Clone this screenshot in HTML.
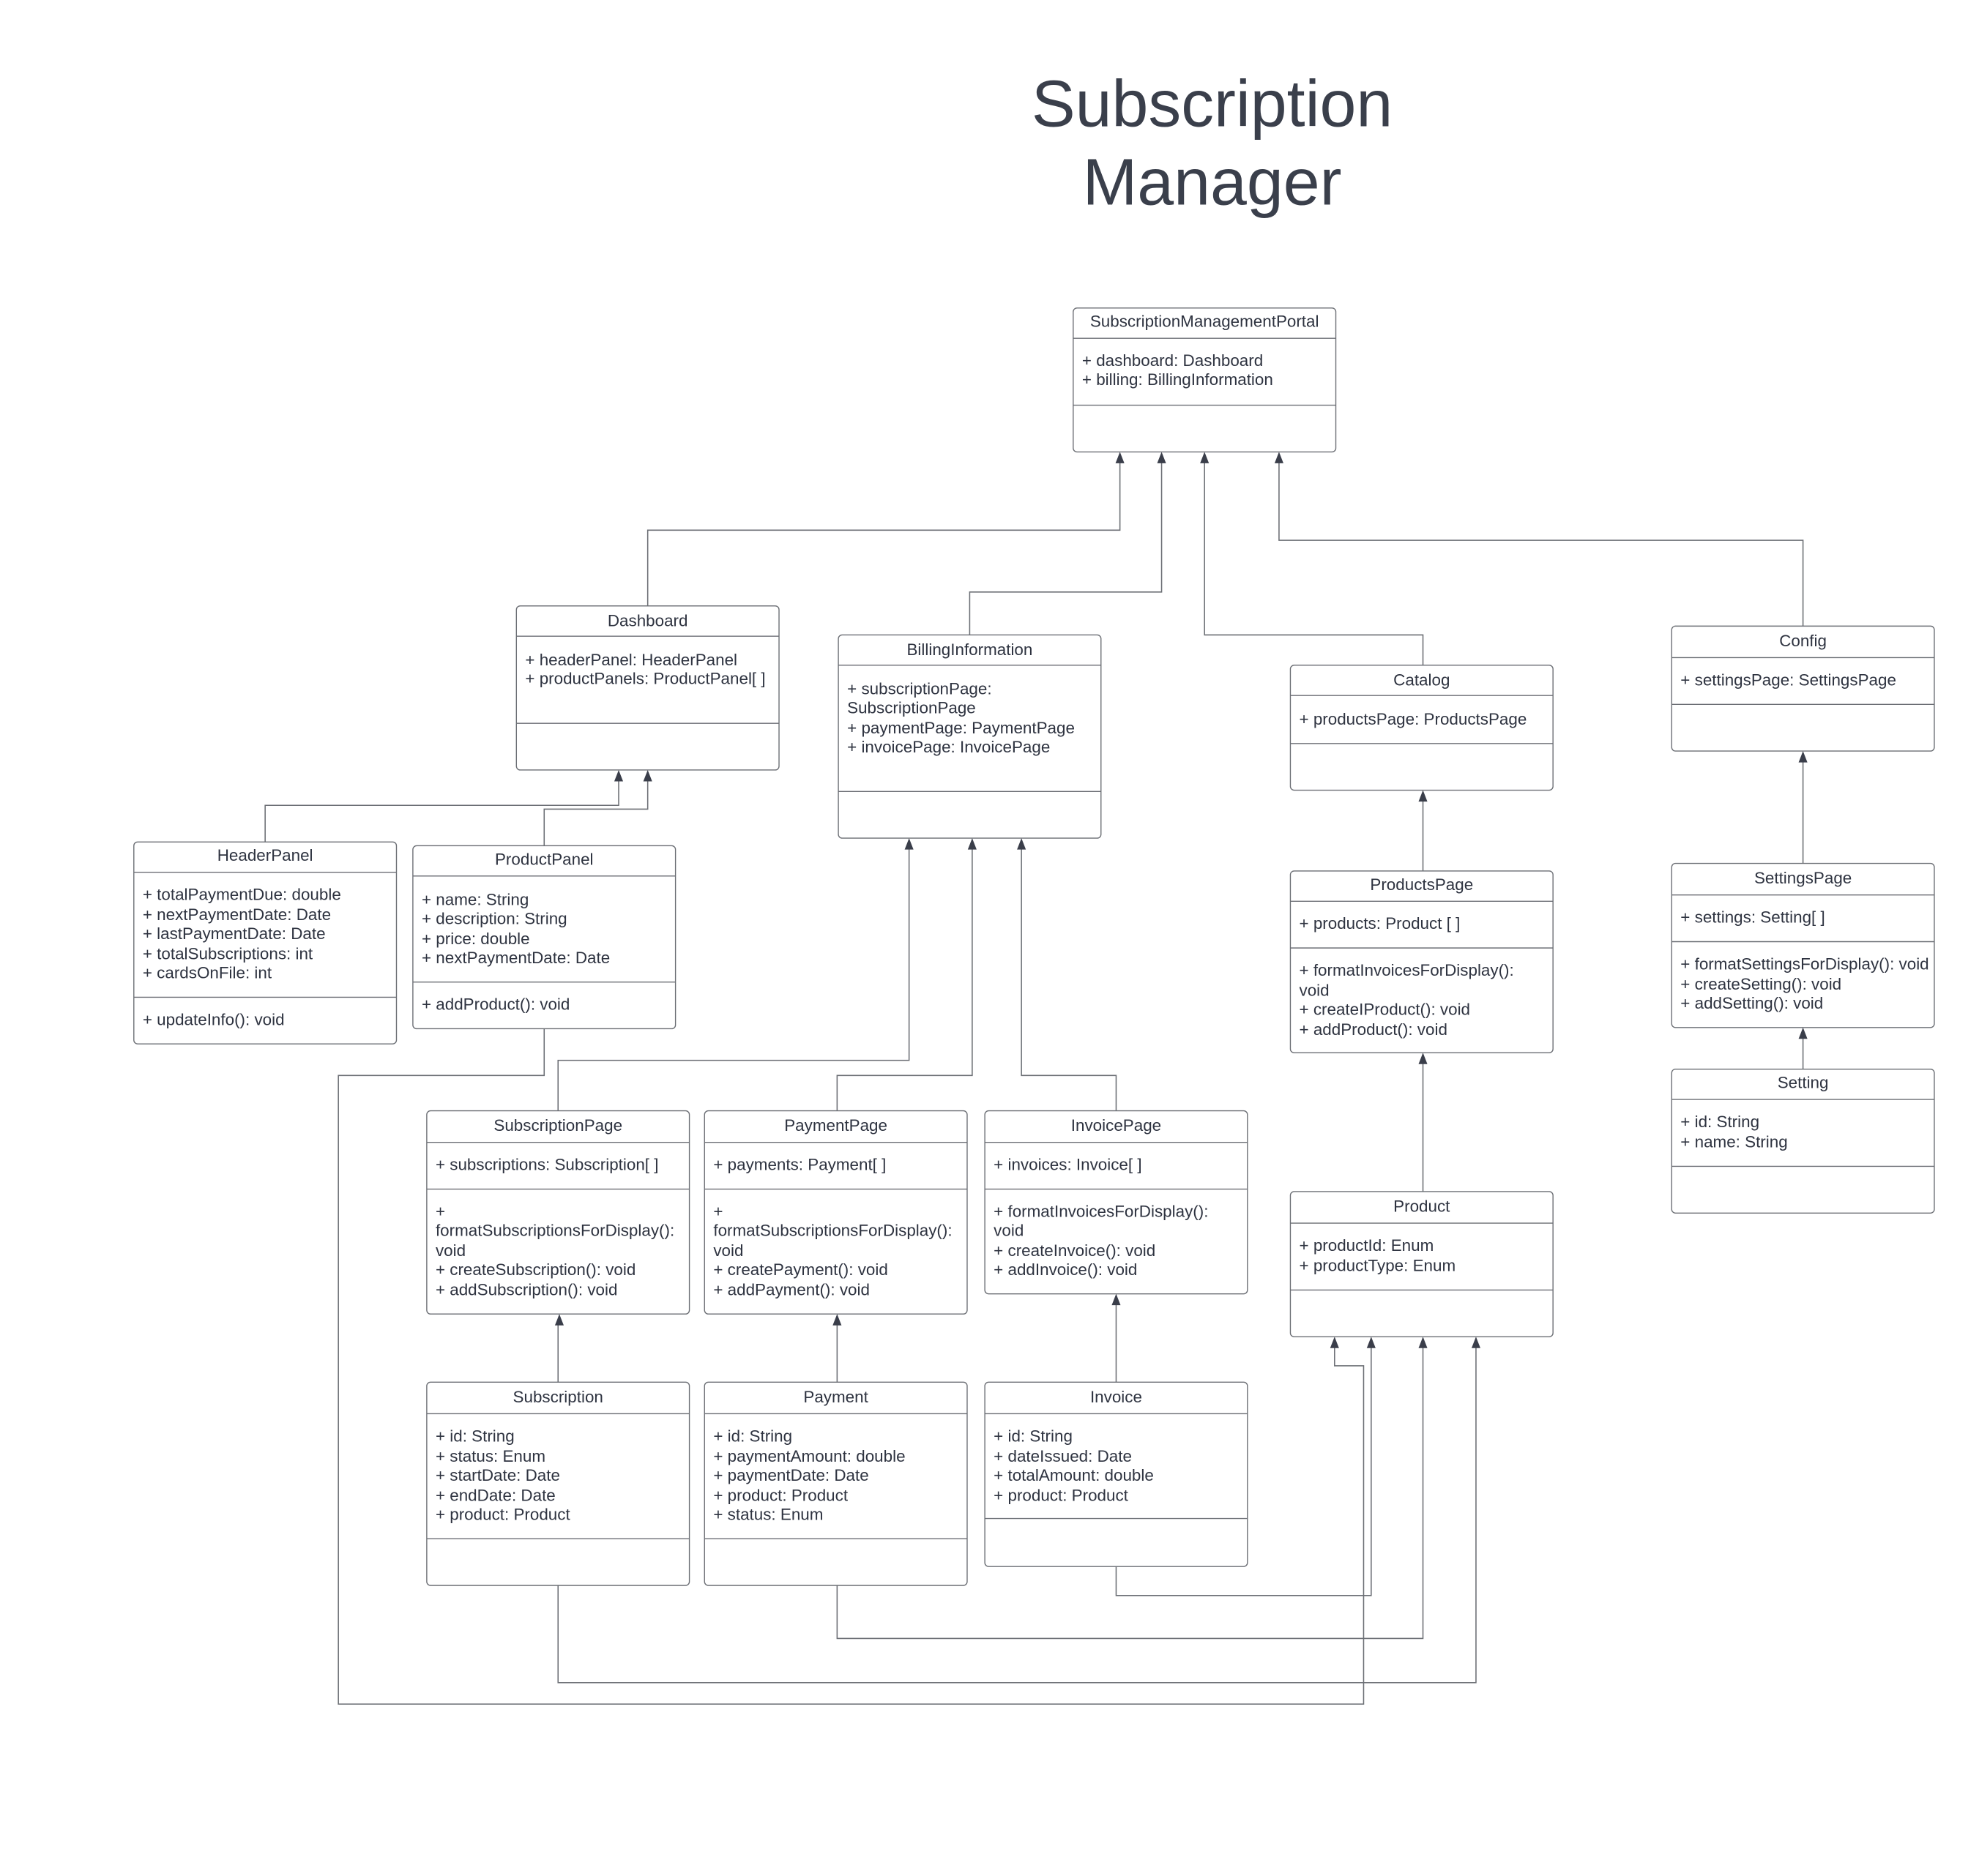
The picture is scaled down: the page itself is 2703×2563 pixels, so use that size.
<!DOCTYPE html>
<html><head><meta charset="utf-8"><style>
html,body{margin:0;padding:0;background:#fff;}
svg{display:block}
text{font-family:"Liberation Sans",sans-serif;fill:#2e3340;}
.b{fill:#fff;stroke:#6b6e74;stroke-width:0.8}
.s{stroke:#6b6e74;stroke-width:0.8}
.c{fill:none;stroke:#6b6e74;stroke-width:0.9}
.t{font-size:13px;}
.h{font-size:13px;text-anchor:middle}
.a{fill:#3a3e4a}
</style></head><body>
<svg width="2703" height="2563" viewBox="0 0 1567.4 1486.2" xmlns="http://www.w3.org/2000/svg">
<text x="960" y="100" style="font-size:52px;text-anchor:middle;fill:#3a3f4b">Subscription</text>
<text x="960" y="162" style="font-size:52px;text-anchor:middle;fill:#3a3f4b">Manager</text>

<!-- connectors -->
<g class="c">
<path d="M513 480V420H887V362"/>
<path d="M768 503V469H920V362"/>
<path d="M1127 527V503H954V362"/>
<path d="M1428 496V428H1013V362"/>
<path d="M210 667V638H490V614"/>
<path d="M431 670V641H513V614"/>
<path d="M442 880V840H720V668"/>
<path d="M663 880V852H770V668"/>
<path d="M884 880V852H809V668"/>
<path d="M1127 690V630"/>
<path d="M1127 944V838"/>
<path d="M1428 684V599"/>
<path d="M1428 847V818"/>
<path d="M442 1095V1045"/>
<path d="M663 1095V1045"/>
<path d="M884 1095V1029"/>
<path d="M884 1241V1264H1086V1063"/>
<path d="M663 1256V1298H1127V1063"/>
<path d="M442 1256V1333H1169V1063"/>
<path d="M431 815V852H268V1350H1080V1082H1057V1063"/>
</g>
<g class="a">
<path d="M887 358l-3.5 9h7z"/><path d="M920 358l-3.5 9h7z"/><path d="M954 358l-3.5 9h7z"/><path d="M1013 358l-3.5 9h7z"/>
<path d="M490 610l-3.5 9h7z"/><path d="M513 610l-3.5 9h7z"/>
<path d="M720 664l-3.5 9h7z"/><path d="M770 664l-3.5 9h7z"/><path d="M809 664l-3.5 9h7z"/>
<path d="M1127 626l-3.5 9h7z"/><path d="M1127 834l-3.5 9h7z"/>
<path d="M1428 595l-3.5 9h7z"/><path d="M1428 814l-3.5 9h7z"/>
<path d="M443 1041l-3.5 9h7z"/><path d="M663 1041l-3.5 9h7z"/><path d="M884 1025l-3.5 9h7z"/>
<path d="M1057 1059l-3.5 9h7z"/><path d="M1086 1059l-3.5 9h7z"/><path d="M1127 1059l-3.5 9h7z"/><path d="M1169 1059l-3.5 9h7z"/>
</g>

<!-- SMP -->
<rect class="b" x="850" y="244" width="208" height="114" rx="3"/>
<line class="s" x1="850" y1="268" x2="1058" y2="268"/><line class="s" x1="850" y1="321" x2="1058" y2="321"/>
<text class="h" x="954" y="259">SubscriptionManagementPortal</text>
<text class="t" x="857" y="290">+ dashboard: Dashboard</text>
<text class="t" x="857" y="305">+ billing: BillingInformation</text>

<!-- Dashboard -->
<rect class="b" x="409" y="480" width="208" height="130" rx="3"/>
<line class="s" x1="409" y1="504" x2="617" y2="504"/><line class="s" x1="409" y1="573" x2="617" y2="573"/>
<text class="h" x="513" y="496">Dashboard</text>
<text class="t" x="416" y="527">+ headerPanel: HeaderPanel</text>
<text class="t" x="416" y="542">+ productPanels: ProductPanel[ ]</text>

<!-- Billing -->
<rect class="b" x="664" y="503" width="208" height="161" rx="3"/>
<line class="s" x1="664" y1="527" x2="872" y2="527"/><line class="s" x1="664" y1="627" x2="872" y2="627"/>
<text class="h" x="768" y="519">BillingInformation</text>
<text class="t" x="671" y="550">+ subscriptionPage:</text>
<text class="t" x="671" y="565">SubscriptionPage</text>
<text class="t" x="671" y="581">+ paymentPage: PaymentPage</text>
<text class="t" x="671" y="596">+ invoicePage: InvoicePage</text>

<!-- Catalog -->
<rect class="b" x="1022" y="527" width="208" height="99" rx="3"/>
<line class="s" x1="1022" y1="551" x2="1230" y2="551"/><line class="s" x1="1022" y1="589" x2="1230" y2="589"/>
<text class="h" x="1126" y="543">Catalog</text>
<text class="t" x="1029" y="574">+ productsPage: ProductsPage</text>

<!-- Config -->
<rect class="b" x="1324" y="496" width="208" height="99" rx="3"/>
<line class="s" x1="1324" y1="521" x2="1532" y2="521"/><line class="s" x1="1324" y1="558" x2="1532" y2="558"/>
<text class="h" x="1428" y="512">Config</text>
<text class="t" x="1331" y="543">+ settingsPage: SettingsPage</text>

<!-- HeaderPanel -->
<rect class="b" x="106" y="667" width="208" height="160" rx="3"/>
<line class="s" x1="106" y1="691" x2="314" y2="691"/><line class="s" x1="106" y1="790" x2="314" y2="790"/>
<text class="h" x="210" y="682">HeaderPanel</text>
<text class="t" x="113" y="713">+ totalPaymentDue: double</text>
<text class="t" x="113" y="729">+ nextPaymentDate: Date</text>
<text class="t" x="113" y="744">+ lastPaymentDate: Date</text>
<text class="t" x="113" y="760">+ totalSubscriptions: int</text>
<text class="t" x="113" y="775">+ cardsOnFile: int</text>
<text class="t" x="113" y="812">+ updateInfo(): void</text>

<!-- ProductPanel -->
<rect class="b" x="327" y="670" width="208" height="145" rx="3"/>
<line class="s" x1="327" y1="694" x2="535" y2="694"/><line class="s" x1="327" y1="778" x2="535" y2="778"/>
<text class="h" x="431" y="685">ProductPanel</text>
<text class="t" x="334" y="717">+ name: String</text>
<text class="t" x="334" y="732">+ description: String</text>
<text class="t" x="334" y="748">+ price: double</text>
<text class="t" x="334" y="763">+ nextPaymentDate: Date</text>
<text class="t" x="334" y="800">+ addProduct(): void</text>

<!-- ProductsPage -->
<rect class="b" x="1022" y="690" width="208" height="144" rx="3"/>
<line class="s" x1="1022" y1="714" x2="1230" y2="714"/><line class="s" x1="1022" y1="751" x2="1230" y2="751"/>
<text class="h" x="1126" y="705">ProductsPage</text>
<text class="t" x="1029" y="736">+ products: Product [ ]</text>
<text class="t" x="1029" y="773">+ formatInvoicesForDisplay():</text>
<text class="t" x="1029" y="789">void</text>
<text class="t" x="1029" y="804">+ createIProduct(): void</text>
<text class="t" x="1029" y="820">+ addProduct(): void</text>

<!-- SettingsPage -->
<rect class="b" x="1324" y="684" width="208" height="130" rx="3"/>
<line class="s" x1="1324" y1="709" x2="1532" y2="709"/><line class="s" x1="1324" y1="746" x2="1532" y2="746"/>
<text class="h" x="1428" y="700">SettingsPage</text>
<text class="t" x="1331" y="731">+ settings: Setting[ ]</text>
<text class="t" x="1331" y="768">+ formatSettingsForDisplay(): void</text>
<text class="t" x="1331" y="784">+ createSetting(): void</text>
<text class="t" x="1331" y="799">+ addSetting(): void</text>

<!-- Setting -->
<rect class="b" x="1324" y="847" width="208" height="114" rx="3"/>
<line class="s" x1="1324" y1="871" x2="1532" y2="871"/><line class="s" x1="1324" y1="924" x2="1532" y2="924"/>
<text class="h" x="1428" y="862">Setting</text>
<text class="t" x="1331" y="893">+ id: String</text>
<text class="t" x="1331" y="909">+ name: String</text>

<!-- SubscriptionPage -->
<rect class="b" x="338" y="880" width="208" height="161" rx="3"/>
<line class="s" x1="338" y1="905" x2="546" y2="905"/><line class="s" x1="338" y1="942" x2="546" y2="942"/>
<text class="h" x="442" y="896">SubscriptionPage</text>
<text class="t" x="345" y="927">+ subscriptions: Subscription[ ]</text>
<text class="t" x="345" y="964">+</text>
<text class="t" x="345" y="979">formatSubscriptionsForDisplay():</text>
<text class="t" x="345" y="995">void</text>
<text class="t" x="345" y="1010">+ createSubscription(): void</text>
<text class="t" x="345" y="1026">+ addSubscription(): void</text>

<!-- PaymentPage -->
<rect class="b" x="558" y="880" width="208" height="161" rx="3"/>
<line class="s" x1="558" y1="905" x2="766" y2="905"/><line class="s" x1="558" y1="942" x2="766" y2="942"/>
<text class="h" x="662" y="896">PaymentPage</text>
<text class="t" x="565" y="927">+ payments: Payment[ ]</text>
<text class="t" x="565" y="964">+</text>
<text class="t" x="565" y="979">formatSubscriptionsForDisplay():</text>
<text class="t" x="565" y="995">void</text>
<text class="t" x="565" y="1010">+ createPayment(): void</text>
<text class="t" x="565" y="1026">+ addPayment(): void</text>

<!-- InvoicePage -->
<rect class="b" x="780" y="880" width="208" height="145" rx="3"/>
<line class="s" x1="780" y1="905" x2="988" y2="905"/><line class="s" x1="780" y1="942" x2="988" y2="942"/>
<text class="h" x="884" y="896">InvoicePage</text>
<text class="t" x="787" y="927">+ invoices: Invoice[ ]</text>
<text class="t" x="787" y="964">+ formatInvoicesForDisplay():</text>
<text class="t" x="787" y="979">void</text>
<text class="t" x="787" y="995">+ createInvoice(): void</text>
<text class="t" x="787" y="1010">+ addInvoice(): void</text>

<!-- Product -->
<rect class="b" x="1022" y="944" width="208" height="115" rx="3"/>
<line class="s" x1="1022" y1="969" x2="1230" y2="969"/><line class="s" x1="1022" y1="1022" x2="1230" y2="1022"/>
<text class="h" x="1126" y="960">Product</text>
<text class="t" x="1029" y="991">+ productId: Enum</text>
<text class="t" x="1029" y="1007">+ productType: Enum</text>

<!-- Subscription -->
<rect class="b" x="338" y="1095" width="208" height="161" rx="3"/>
<line class="s" x1="338" y1="1120" x2="546" y2="1120"/><line class="s" x1="338" y1="1219" x2="546" y2="1219"/>
<text class="h" x="442" y="1111">Subscription</text>
<text class="t" x="345" y="1142">+ id: String</text>
<text class="t" x="345" y="1158">+ status: Enum</text>
<text class="t" x="345" y="1173">+ startDate: Date</text>
<text class="t" x="345" y="1189">+ endDate: Date</text>
<text class="t" x="345" y="1204">+ product: Product</text>

<!-- Payment -->
<rect class="b" x="558" y="1095" width="208" height="161" rx="3"/>
<line class="s" x1="558" y1="1120" x2="766" y2="1120"/><line class="s" x1="558" y1="1219" x2="766" y2="1219"/>
<text class="h" x="662" y="1111">Payment</text>
<text class="t" x="565" y="1142">+ id: String</text>
<text class="t" x="565" y="1158">+ paymentAmount: double</text>
<text class="t" x="565" y="1173">+ paymentDate: Date</text>
<text class="t" x="565" y="1189">+ product: Product</text>
<text class="t" x="565" y="1204">+ status: Enum</text>

<!-- Invoice -->
<rect class="b" x="780" y="1095" width="208" height="146" rx="3"/>
<line class="s" x1="780" y1="1120" x2="988" y2="1120"/><line class="s" x1="780" y1="1203" x2="988" y2="1203"/>
<text class="h" x="884" y="1111">Invoice</text>
<text class="t" x="787" y="1142">+ id: String</text>
<text class="t" x="787" y="1158">+ dateIssued: Date</text>
<text class="t" x="787" y="1173">+ totalAmount: double</text>
<text class="t" x="787" y="1189">+ product: Product</text>
</svg>
</body></html>
